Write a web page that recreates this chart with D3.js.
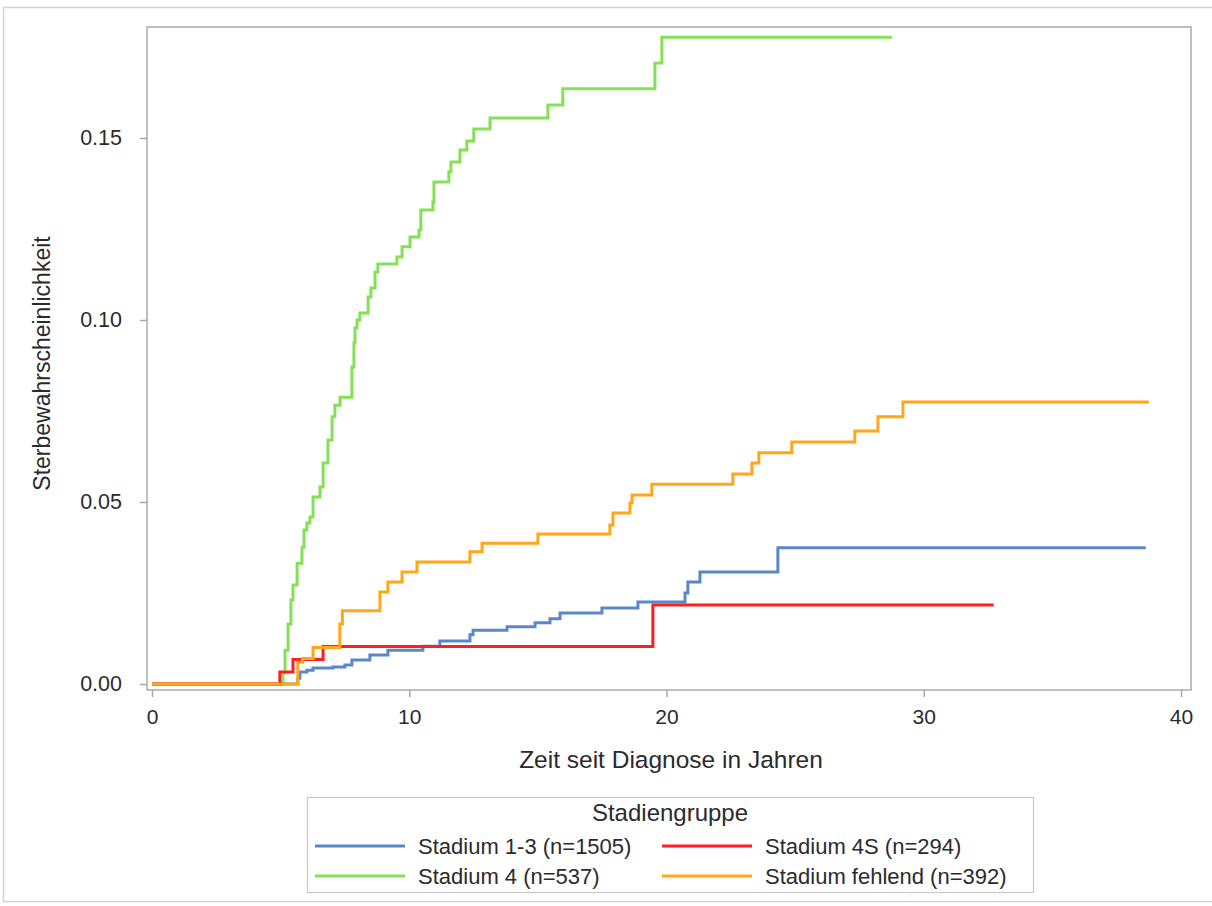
<!DOCTYPE html>
<html>
<head>
<meta charset="utf-8">
<script src="https://cdn.jsdelivr.net/npm/d3@7"></script>
<style>
  html, body { margin: 0; padding: 0; background: #fff; }
  svg { display: block; font-family: Arial, "Liberation Sans", sans-serif; }
</style>
</head>
<body>
<svg id="chart" width="1212" height="906"></svg>
<script>
// ---- Data ----
const xTicks = [0, 10, 20, 30, 40];
const yTicks = [0, 0.05, 0.10, 0.15];
const yTickLabels = ["0.00", "0.05", "0.10", "0.15"];

const seriesNames = ["Stadium 1-3 (n=1505)", "Stadium 4S (n=294)", "Stadium 4 (n=537)", "Stadium fehlend (n=392)"];
const seriesColors = ["#5a87c9", "#ff1f1f", "#84e156", "#ffa619"];

// Stadium 1-3 : step times (years) and cumulative probability after each step
const t13 = [0, 5.67, 5.75, 6.02, 6.26, 7.03, 7.50, 7.77, 8.47, 9.17, 10.53, 11.19, 12.36, 12.48, 13.80, 14.89, 15.47, 15.86, 17.49, 18.89, 20.72, 20.83, 21.30, 24.33, 38.63];
const v13 = [0, 0.0016, 0.0033, 0.0038, 0.0044, 0.0047, 0.0052, 0.0066, 0.0080, 0.0093, 0.0104, 0.0118, 0.0135, 0.0148, 0.0157, 0.0168, 0.0179, 0.0195, 0.0209, 0.0225, 0.0250, 0.0280, 0.0308, 0.0374, 0.0374];

// Stadium 4S
const t4S = [0, 4.97, 5.48, 6.65, 19.47, 32.72];
const v4S = [0, 0.0033, 0.0067, 0.0103, 0.0217, 0.0217];

// Stadium 4
const t4 = [0, 5.09, 5.17, 5.29, 5.40, 5.48, 5.64, 5.83, 5.91, 6.02, 6.14, 6.26, 6.53, 6.65, 6.84, 7.00, 7.11, 7.31, 7.77, 7.85, 7.89, 7.97, 8.08, 8.40, 8.51, 8.67, 8.78, 9.52, 9.72, 10.03, 10.38, 10.45, 10.92, 10.96, 11.54, 11.62, 11.97, 12.24, 12.51, 13.14, 15.39, 15.97, 19.55, 19.82, 28.76];
const v4 = [0, 0.0030, 0.0093, 0.0165, 0.0231, 0.0272, 0.0332, 0.0376, 0.0423, 0.0442, 0.0459, 0.0514, 0.0541, 0.0607, 0.0670, 0.0734, 0.0766, 0.0788, 0.0871, 0.0937, 0.0978, 0.1000, 0.1019, 0.1063, 0.1088, 0.1132, 0.1154, 0.1173, 0.1201, 0.1228, 0.1247, 0.1302, 0.1324, 0.1379, 0.1407, 0.1434, 0.1467, 0.1492, 0.1525, 0.1555, 0.1591, 0.1635, 0.1706, 0.1777, 0.1777];

// Stadium fehlend
const tF = [0, 5.67, 5.85, 6.26, 7.30, 7.40, 8.86, 9.17, 9.72, 10.30, 12.36, 12.83, 15.00, 17.80, 17.92, 18.58, 18.66, 19.43, 22.58, 23.32, 23.59, 24.87, 27.32, 28.22, 29.19, 38.75];
const vF = [0, 0.0060, 0.0070, 0.0100, 0.0165, 0.0201, 0.0253, 0.0280, 0.0308, 0.0335, 0.0363, 0.0387, 0.0412, 0.0437, 0.0470, 0.0497, 0.0519, 0.0549, 0.0577, 0.0607, 0.0635, 0.0665, 0.0695, 0.0734, 0.0775, 0.0775];

const seriesTimes = [t13, t4S, t4, tF];
const seriesValues = [v13, v4S, v4, vF];
// drawing order (bottom to top)
const drawOrder = [2, 0, 1, 3];

const xTitle = "Zeit seit Diagnose in Jahren";
const yTitle = "Sterbewahrscheinlichkeit";
const legendTitle = "Stadiengruppe";

// ---- Layout ----
const FONT = "Arial, 'Liberation Sans', sans-serif";
const TXT = "#2b2b2b";
const svg = d3.select("#chart");
const frame = { left: 147, right: 1191, top: 27, bottom: 690 };

const x = d3.scaleLinear().domain([0, 40]).range([152, 1181]);
const y = d3.scaleLinear().domain([0, 0.15]).range([684, 138]);

// outer light border
svg.append("rect")
  .attr("x", 3.5).attr("y", 7.5).attr("width", 1220).attr("height", 894)
  .attr("fill", "none").attr("stroke", "#d4d4d4").attr("stroke-width", 1.5);

// plot frame
svg.append("rect")
  .attr("x", frame.left).attr("y", frame.top)
  .attr("width", frame.right - frame.left).attr("height", frame.bottom - frame.top)
  .attr("fill", "#fff").attr("stroke", "#a8abae").attr("stroke-width", 1.5);

// x axis
const xAxis = d3.axisBottom(x).tickValues(xTicks).tickSize(7).tickPadding(12).tickFormat(d3.format("d"));
const gx = svg.append("g").attr("transform", `translate(0,${frame.bottom})`).call(xAxis);
gx.select(".domain").remove();
gx.selectAll("line").attr("stroke", "#a8abae").attr("stroke-width", 1.5);
gx.selectAll("text").attr("font-size", 21).attr("fill", TXT).attr("font-family", FONT);

// y axis
const yAxis = d3.axisLeft(y).tickValues(yTicks).tickSize(7).tickPadding(18).tickFormat((d, i) => yTickLabels[i]);
const gy = svg.append("g").attr("transform", `translate(${frame.left},0)`).call(yAxis);
gy.select(".domain").remove();
gy.selectAll("line").attr("stroke", "#a8abae").attr("stroke-width", 1.5);
gy.selectAll("text").attr("font-size", 21.5).attr("fill", TXT).attr("font-family", FONT);

// titles
svg.append("text")
  .attr("x", (frame.left + frame.right) / 2 + 2).attr("y", 768)
  .attr("text-anchor", "middle").attr("font-size", 24.5).attr("fill", TXT)
  .text(xTitle);
svg.append("text")
  .attr("transform", `translate(50,${(frame.top + frame.bottom) / 2 + 5}) rotate(-90)`)
  .attr("text-anchor", "middle").attr("font-size", 23).attr("fill", TXT)
  .text(yTitle);

// lines
const line = d3.line().curve(d3.curveStepAfter).x(d => x(d[0])).y(d => y(d[1]));
drawOrder.forEach(i => {
  const pts = seriesTimes[i].map((t, j) => [t, seriesValues[i][j]]);
  svg.append("path")
    .datum(pts)
    .attr("d", line)
    .attr("fill", "none")
    .attr("stroke", seriesColors[i])
    .attr("stroke-width", 3)
    .attr("stroke-linejoin", "miter");
});

// legend
const lg = svg.append("g");
lg.append("rect")
  .attr("x", 307.5).attr("y", 797.5).attr("width", 726).attr("height", 95)
  .attr("fill", "#fff").attr("stroke", "#c9c9c9").attr("stroke-width", 1.2);
lg.append("text")
  .attr("x", 670).attr("y", 821)
  .attr("text-anchor", "middle").attr("font-size", 24).attr("fill", TXT)
  .text(legendTitle);

const legendPos = [
  { lx: 315, tx: 418, yy: 846 },
  { lx: 662, tx: 765, yy: 846 },
  { lx: 315, tx: 418, yy: 876 },
  { lx: 662, tx: 765, yy: 876 }
];
seriesNames.forEach((name, i) => {
  const p = legendPos[i];
  lg.append("line")
    .attr("x1", p.lx).attr("x2", p.lx + 90).attr("y1", p.yy).attr("y2", p.yy)
    .attr("stroke", seriesColors[i]).attr("stroke-width", 3);
  lg.append("text")
    .attr("x", p.tx).attr("y", p.yy + 8)
    .attr("font-size", 22).attr("fill", TXT)
    .text(name);
});
</script>
</body>
</html>
